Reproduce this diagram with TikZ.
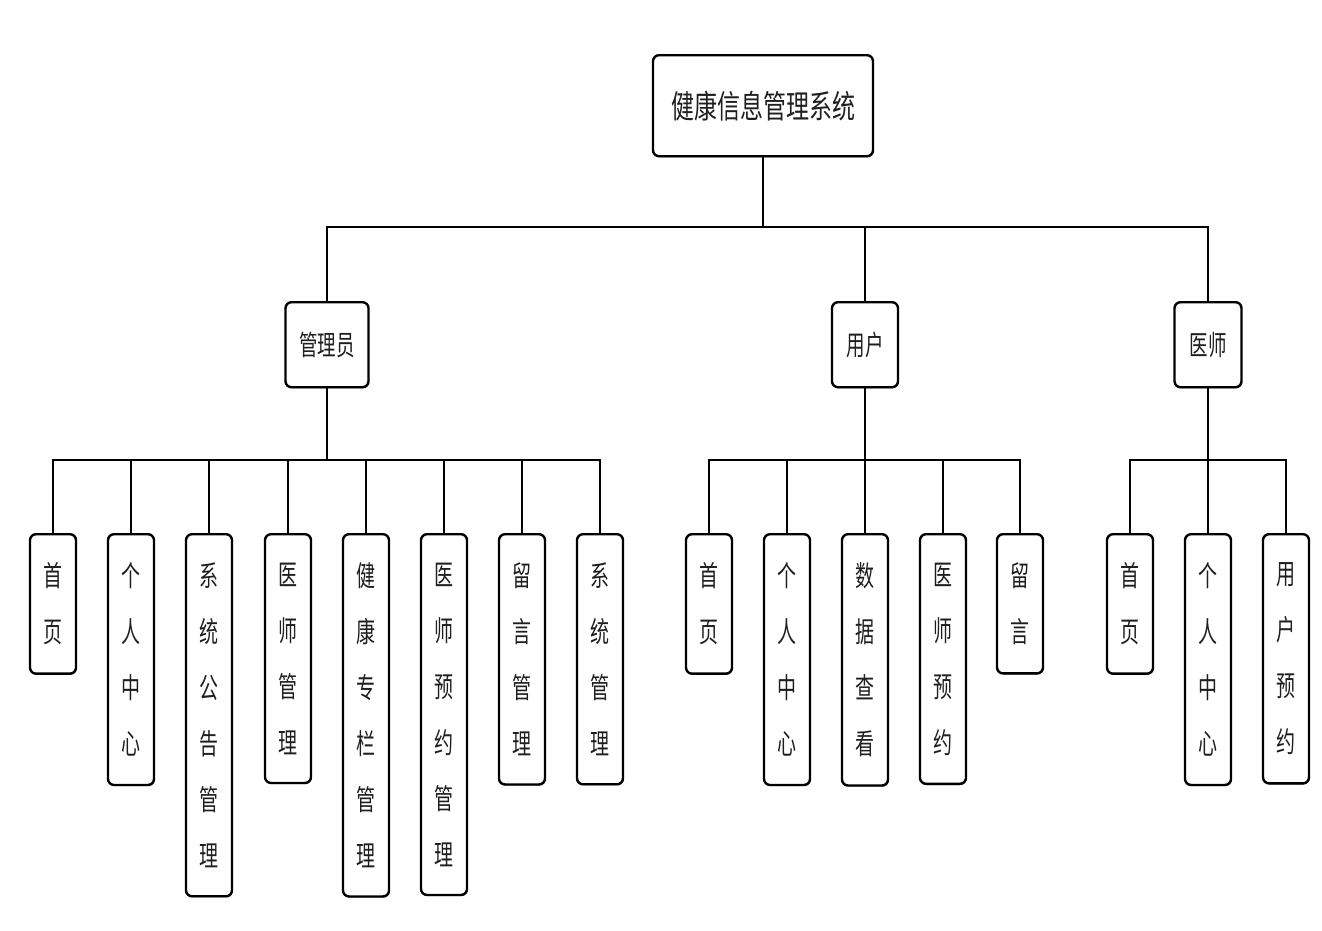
\documentclass[tikz,border=0pt]{standalone}
\usepackage{fontspec}
\usepackage{graphicx}
\usetikzlibrary{shadows}
\setmainfont{Noto Sans CJK SC}
\newcommand{\V}[1]{\scalebox{1}[1.5]{#1}}
\newcommand{\T}[1]{\scalebox{1}[1.4]{#1}}
\begin{document}
\begin{tikzpicture}[x=1pt,y=-1pt,
  box/.style={draw=black, line width=2.4pt, rounded corners=6pt, fill=white, text=black!88, inner sep=0pt, anchor=north,
    drop shadow={shadow xshift=0.6pt, shadow yshift=-1.2pt, fill=black, opacity=0.5}},
  topbox/.style={box, minimum width=220pt, minimum height=101pt, font=\fontsize{23pt}{28pt}\selectfont},
  midbox/.style={box, minimum height=85pt, font=\fontsize{18.5pt}{22pt}\selectfont},
  leaf/.style={box, minimum width=46pt, align=center, inner ysep=28.5pt, font=\fontsize{19pt}{56pt}\selectfont},
  conn/.style={line width=2.4pt, line cap=rect}
]
\useasboundingbox (0,0) rectangle (1322,930);
% top
\node[topbox] (top) at (763,54) {\T{健康信息管理系统}};
% middle
\node[midbox, minimum width=83pt] (adm) at (327,301) {\V{管理员}};
\node[midbox, minimum width=66pt] (usr) at (865,301) {\V{用户}};
\node[midbox, minimum width=67pt] (doc) at (1208,301) {\V{医师}};
% admin leaves
\node[leaf] (a1) at (53,533) {\V{首}\\\V{页}};
\node[leaf] (a2) at (131,533) {\V{个}\\\V{人}\\\V{中}\\\V{心}};
\node[leaf] (a3) at (209,533) {\V{系}\\\V{统}\\\V{公}\\\V{告}\\\V{管}\\\V{理}};
\node[leaf] (a4) at (288,533) {\V{医}\\\V{师}\\\V{管}\\\V{理}};
\node[leaf] (a5) at (366,533) {\V{健}\\\V{康}\\\V{专}\\\V{栏}\\\V{管}\\\V{理}};
\node[leaf] (a6) at (444,533) {\V{医}\\\V{师}\\\V{预}\\\V{约}\\\V{管}\\\V{理}};
\node[leaf] (a7) at (522,533) {\V{留}\\\V{言}\\\V{管}\\\V{理}};
\node[leaf] (a8) at (600,533) {\V{系}\\\V{统}\\\V{管}\\\V{理}};
% user leaves
\node[leaf] (u1) at (709,533) {\V{首}\\\V{页}};
\node[leaf] (u2) at (787,533) {\V{个}\\\V{人}\\\V{中}\\\V{心}};
\node[leaf] (u3) at (865,533) {\V{数}\\\V{据}\\\V{查}\\\V{看}};
\node[leaf] (u4) at (943,533) {\V{医}\\\V{师}\\\V{预}\\\V{约}};
\node[leaf] (u5) at (1020,533) {\V{留}\\\V{言}};
% doctor leaves
\node[leaf] (d1) at (1130,533) {\V{首}\\\V{页}};
\node[leaf] (d2) at (1208,533) {\V{个}\\\V{人}\\\V{中}\\\V{心}};
\node[leaf] (d3) at (1286,533) {\V{用}\\\V{户}\\\V{预}\\\V{约}};
% bus coordinates
\coordinate (b0) at (763,227);
\coordinate (ba) at (327,460);
\coordinate (bu) at (865,460);
\coordinate (bd) at (1208,460);
% top level connectors
\draw[conn] (top.south) -- (b0);
\draw[conn] (b0 -| adm.north) -- (b0 -| doc.north);
\foreach \n in {adm,usr,doc} \draw[conn] (\n.north) -- (b0 -| \n.north);
% admin
\draw[conn] (adm.south) -- (ba);
\draw[conn] (ba -| a1.north) -- (ba -| a8.north);
\foreach \n in {a1,a2,a3,a4,a5,a6,a7,a8} \draw[conn] (\n.north) -- (ba -| \n.north);
% user
\draw[conn] (usr.south) -- (bu);
\draw[conn] (bu -| u1.north) -- (bu -| u5.north);
\foreach \n in {u1,u2,u3,u4,u5} \draw[conn] (\n.north) -- (bu -| \n.north);
% doctor
\draw[conn] (doc.south) -- (bd);
\draw[conn] (bd -| d1.north) -- (bd -| d3.north);
\foreach \n in {d1,d2,d3} \draw[conn] (\n.north) -- (bd -| \n.north);
\end{tikzpicture}
\end{document}
